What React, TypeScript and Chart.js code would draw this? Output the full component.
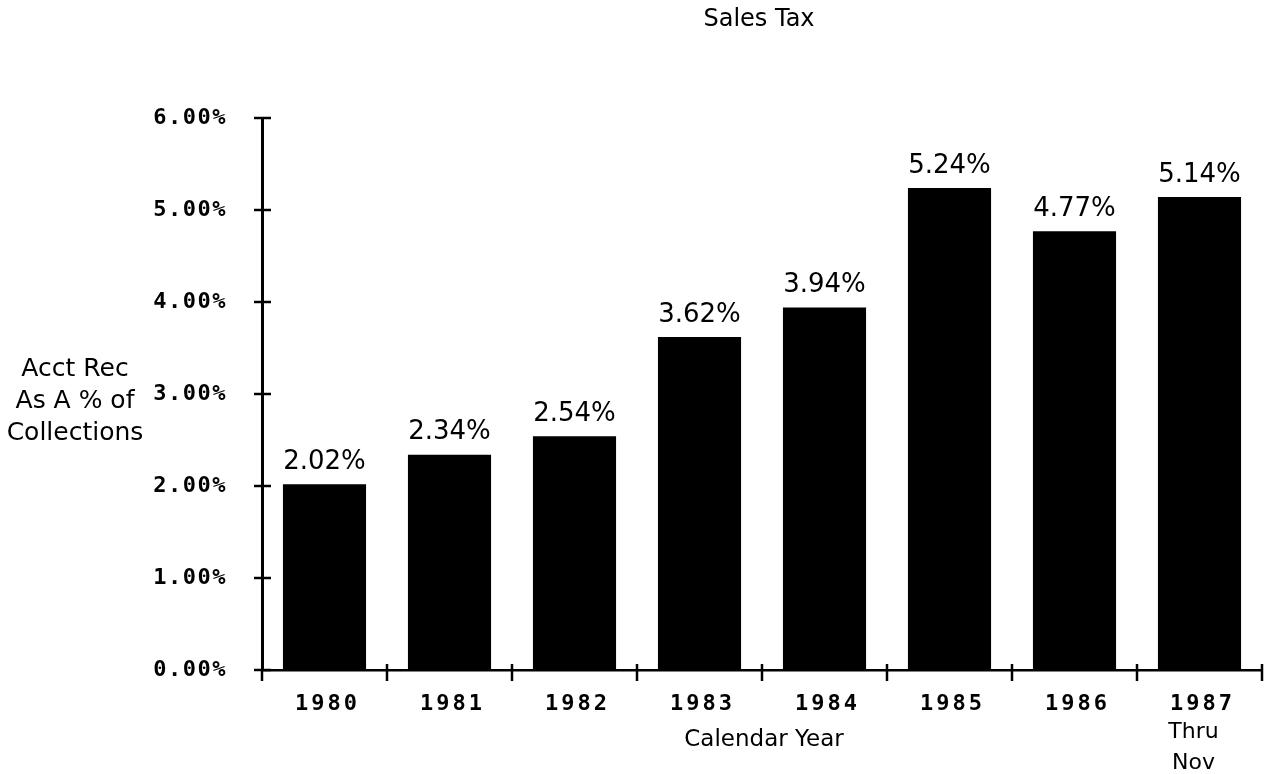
import { useEffect, useRef } from "react";
import { Chart, registerables } from "chart.js";

Chart.register(...registerables);

const categories = ["1980", "1981", "1982", "1983", "1984", "1985", "1986", "1987"];
const subLabels: string[][] = [[], [], [], [], [], [], [], ["Thru", "Nov"]];
const values = [2.02, 2.34, 2.54, 3.62, 3.94, 5.24, 4.77, 5.14];
const valueLabels = ["2.02%", "2.34%", "2.54%", "3.62%", "3.94%", "5.24%", "4.77%", "5.14%"];
const yTicks = [0, 1, 2, 3, 4, 5, 6];
const titleText = "Sales Tax";
const xTitleText = "Calendar Year";
const yTitleLines = ["Acct Rec", "As A % of", "Collections"];

const XLABEL_FONT = "bold 22px 'DejaVu Sans Mono'";
const REG = "'DejaVu Sans'";

export default function App() {
  const ref = useRef<HTMLCanvasElement | null>(null);

  useEffect(() => {
    document.body.style.margin = "0";
    document.body.style.overflow = "hidden";
    const canvas = ref.current;
    if (!canvas) return;

    const spacingPlugin = {
      id: "spacing",
      beforeDraw(chart: any) {
        (chart.ctx as any).letterSpacing = "1.5px";
      },
      afterDraw(chart: any) {
        const ctx = chart.ctx as any;
        const area = chart.chartArea;
        const xs = chart.scales.x;
        const ys = chart.scales.y;
        ctx.save();
        ctx.strokeStyle = "#000";
        ctx.fillStyle = "#000";
        ctx.lineWidth = 2.5;

        // y tick marks (crossing the axis)
        yTicks.forEach((v) => {
          const y = Math.round(ys.getPixelForValue(v));
          ctx.beginPath();
          ctx.moveTo(area.left - 8, y);
          ctx.lineTo(area.left + 9, y);
          ctx.stroke();
        });

        // x tick marks at category boundaries
        for (let i = 0; i <= categories.length; i++) {
          const x = Math.round(xs.getPixelForValue(i - 0.5));
          ctx.beginPath();
          ctx.moveTo(x, area.bottom - (i === 0 ? 0 : 6));
          ctx.lineTo(x, area.bottom + 11);
          ctx.stroke();
        }

        // value labels above bars
        const meta = chart.getDatasetMeta(0);
        ctx.font = `26px ${REG}`;
        ctx.letterSpacing = "0px";
        ctx.textAlign = "center";
        ctx.textBaseline = "bottom";
        meta.data.forEach((el: any, i: number) => {
          ctx.fillText(valueLabels[i], el.x, el.y - 9);
        });

        // x category labels
        ctx.textBaseline = "middle";
        categories.forEach((c, i) => {
          const x = xs.getPixelForValue(i);
          ctx.font = XLABEL_FONT;
          ctx.letterSpacing = "3px";
          ctx.fillText(c, x + 3, area.bottom + 34);
          ctx.font = `22px ${REG}`;
          ctx.letterSpacing = "0px";
          subLabels[i].forEach((s, j) => {
            ctx.fillText(s, x - 6, area.bottom + 62 + j * 31);
          });
        });

        // x axis title
        ctx.font = `23px ${REG}`;
        ctx.letterSpacing = "0px";
        ctx.fillText(xTitleText, (area.left + area.right) / 2 + 2, area.bottom + 70);

        // y axis title
        ctx.font = `25px ${REG}`;
        yTitleLines.forEach((s, j) => {
          ctx.fillText(s, 75, 369 + j * 32);
        });

        // chart title
        ctx.font = `24px ${REG}`;
        ctx.fillText(titleText, (area.left + area.right) / 2 - 3, 20);

        ctx.restore();
        ctx.letterSpacing = "0px";
      },
    };

    const chart = new Chart(canvas, {
      type: "bar",
      data: {
        labels: categories,
        datasets: [
          {
            data: values,
            backgroundColor: "#000",
            borderWidth: 0,
            barPercentage: 0.665,
            categoryPercentage: 1,
          },
        ],
      },
      options: {
        animation: false,
        responsive: true,
        maintainAspectRatio: false,
        layout: { padding: { top: 118, right: 2, left: 0, bottom: 0 } },
        plugins: {
          legend: { display: false },
          tooltip: { enabled: false },
          title: { display: false },
        },
        scales: {
          x: {
            type: "category",
            offset: true,
            grid: { display: false },
            border: { display: true, color: "#000", width: 2.5 },
            ticks: { display: false },
            afterFit: (s: any) => {
              s.height = 104;
            },
          },
          y: {
            min: 0,
            max: 6,
            grid: { display: false },
            border: { display: true, color: "#000", width: 3 },
            ticks: {
              stepSize: 1,
              color: "#000",
              padding: 27,
              font: { family: "'DejaVu Sans Mono'", weight: "bold", size: 22 },
              callback: (v: any) => Number(v).toFixed(2) + "%",
            },
            afterFit: (s: any) => {
              s.width = 262;
            },
          },
        },
      },
      plugins: [spacingPlugin],
    });

    return () => chart.destroy();
  }, []);

  return (
    <div style={{ width: "1264px", height: "774px", position: "relative" }}>
      <canvas ref={ref} />
    </div>
  );
}
